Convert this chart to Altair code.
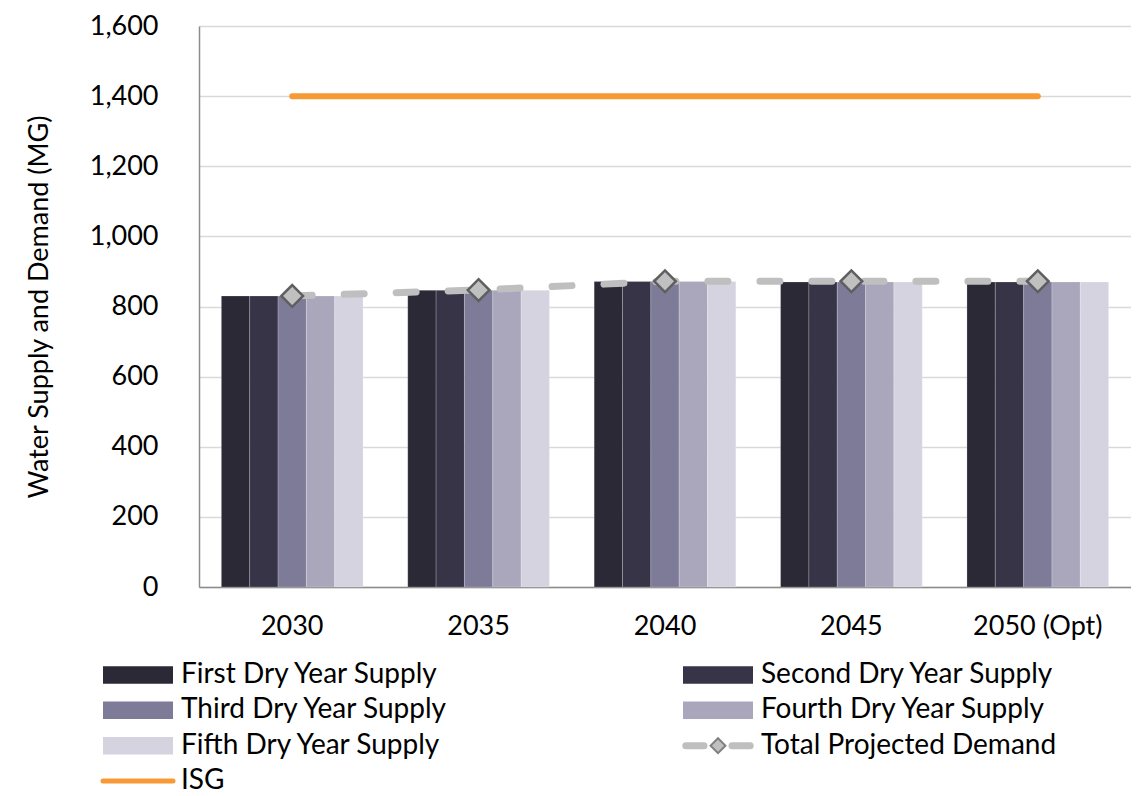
import altair as alt
import pandas as pd

years = ["2030", "2035", "2040", "2045", "2050 (Opt)"]
series = ["First Dry Year Supply", "Second Dry Year Supply", "Third Dry Year Supply",
          "Fourth Dry Year Supply", "Fifth Dry Year Supply"]
supply = [830, 846, 871, 870, 870]  # same value for each dry year in a given year
demand = [830, 847, 872, 872, 872]
isg = [1400, 1400, 1400, 1400, 1400]
bar_colors = ["#2b2935", "#363446", "#7e7b99", "#aaa7bd", "#d4d3df"]
demand_name = "Total Projected Demand"
isg_name = "ISG"
demand_color = "#bfbfbf"
isg_color = "#f79a34"
y_ticks = [0, 200, 400, 600, 800, 1000, 1200, 1400, 1600]

FONT = "Lato"

bars_df = pd.DataFrame([
    {"year": y, "series": s, "value": v}
    for y, v in zip(years, supply) for s in series
])
line_df = pd.DataFrame({"year": years, "demand": demand, "isg": isg})

x_enc = alt.X("year:N", sort=years, title=None,
              scale=alt.Scale(paddingInner=0.24, paddingOuter=0.12),
              axis=alt.Axis(labelFontSize=27, labelFont=FONT, labelColor="#000000",
                            labelPadding=26, ticks=False, domainColor="#8c8c8c",
                            domainWidth=1.5, labelAngle=0, grid=False))
y_scale = alt.Scale(domain=[0, 1600], nice=False)

bars = alt.Chart(bars_df).mark_bar(stroke="#ffffff", strokeWidth=0.4, strokeOpacity=0.5).encode(
    x=x_enc,
    xOffset=alt.XOffset("series:N", sort=series),
    y=alt.Y("value:Q", scale=y_scale, title="Water Supply and Demand (MG)",
            axis=alt.Axis(values=y_ticks, format=",.0f", labelFontSize=27, labelFont=FONT,
                          labelColor="#000000", ticks=False, labelPadding=41,
                          titleFontSize=27, titleFont=FONT, titleFontWeight="normal",
                          titleColor="#000000", titlePadding=36,
                          domainColor="#8c8c8c", domainWidth=1.5,
                          gridColor="#d9d9d9", gridWidth=1.5)),
    color=alt.Color("series:N", scale=alt.Scale(domain=series, range=bar_colors), legend=None),
)

demand_line = alt.Chart(line_df).mark_line(
    color=demand_color, strokeWidth=7, strokeDash=[20, 32], strokeCap="round"
).encode(x=alt.X("year:N", sort=years), y=alt.Y("demand:Q", scale=y_scale))

isg_line = alt.Chart(line_df).mark_line(
    color=isg_color, strokeWidth=6, strokeCap="round"
).encode(x=alt.X("year:N", sort=years), y=alt.Y("isg:Q", scale=y_scale))

demand_pts = alt.Chart(line_df).mark_point(
    shape="diamond", filled=True, fill="#c0c0c0", stroke="#5f5f5f",
    strokeWidth=2.5, size=470, opacity=1
).encode(x=alt.X("year:N", sort=years), y=alt.Y("demand:Q", scale=y_scale))

main = alt.layer(bars, demand_line, isg_line, demand_pts).properties(width=932, height=561)

# ---- custom legend ----
legend_items = series + [demand_name, isg_name]
legend_df = pd.DataFrame({
    "name": legend_items,
    "col": [i % 2 for i in range(len(legend_items))],
    "row": [i // 2 for i in range(len(legend_items))],
    "kind": ["bar"] * len(series) + ["demand", "isg"],
})
lx = alt.X("col:O", axis=None, scale=alt.Scale(type="point", range=[-61, 519], padding=0))
ly = alt.Y("row:O", axis=None, scale=alt.Scale(type="point", range=[0, 106], padding=0))
all_colors = bar_colors + [demand_color, isg_color]

leg_base = alt.Chart(legend_df).encode(x=lx, y=ly)
leg_rect = leg_base.transform_filter(alt.datum.kind == "bar").mark_point(
    shape="M-1,-0.25H1V0.25H-1Z", filled=True, size=4900, opacity=1
).encode(color=alt.Color("name:N", scale=alt.Scale(domain=legend_items, range=all_colors), legend=None))
leg_isg = leg_base.transform_filter(alt.datum.kind == "isg").mark_point(
    shape="M-1,0H1", filled=False, size=4900, strokeWidth=5, color=isg_color,
    opacity=1, strokeCap="round"
)
leg_dem = leg_base.transform_filter(alt.datum.kind == "demand").mark_point(
    shape="M-0.92,0H-0.4M0.4,0H0.92", filled=False, size=4900, strokeWidth=7,
    color=demand_color, opacity=1, strokeCap="round"
)
leg_dem_pt = leg_base.transform_filter(alt.datum.kind == "demand").mark_point(
    shape="diamond", filled=True, fill="#c0c0c0", stroke="#7f7f7f", strokeWidth=2,
    size=220, opacity=1
)
leg_text = leg_base.mark_text(
    align="left", baseline="middle", dx=43, fontSize=28, font=FONT, color="#000000"
).encode(text="name:N")

legend = alt.layer(leg_rect, leg_isg, leg_dem, leg_dem_pt, leg_text).properties(width=932, height=106)

chart = alt.vconcat(main, legend, spacing=22).properties(
    padding={"left": 17, "top": 4, "right": 0, "bottom": 0}
).configure_view(stroke=None).configure_concat(spacing=22)

chart.save("out.html", embed_options={"renderer": "svg", "actions": False})
